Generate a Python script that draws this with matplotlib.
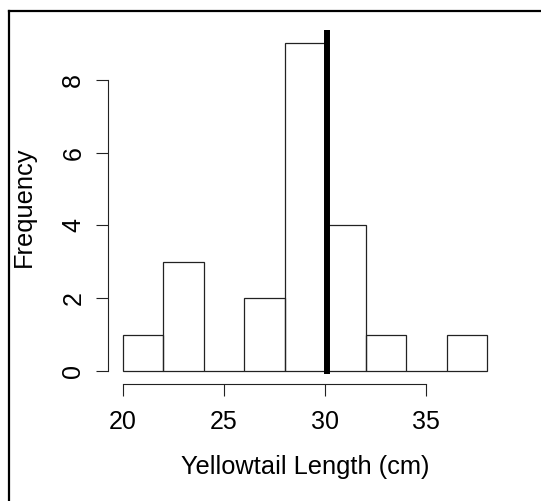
import numpy as np
import matplotlib.pyplot as plt
from matplotlib.lines import Line2D

plt.rcParams['font.family'] = ['Liberation Sans', 'DejaVu Sans']

# histogram of yellowtail lengths, 2 cm bins
bin_edges = [20, 22, 24, 26, 28, 30, 32, 34, 36, 38]
counts = [1, 3, 0, 2, 9, 4, 1, 0, 1]
mean_length = 30.1

x_ticks = [20, 25, 30, 35]
y_ticks = [0, 2, 4, 6, 8]

fig = plt.figure(figsize=(5.41, 5.01), dpi=100)
ax = fig.add_axes([0.2004, 0.2335, 0.7268, 0.706])

lefts = np.array(bin_edges[:-1])
widths = np.diff(bin_edges)
ax.bar(lefts, counts, width=widths, align='edge', fill=False,
       edgecolor='#222222', linewidth=0.9)
ax.plot([mean_length, mean_length], [0, 9.6], color='black', linewidth=4.3)

# R-style axes
ax.set_xlim(19.28, 38.72)
ax.set_ylim(-0.36, 9.36)
for s in ['top', 'right']:
    ax.spines[s].set_visible(False)
ax.spines['bottom'].set_bounds(20, 35)
ax.spines['left'].set_bounds(0, 8)
for s in ['bottom', 'left']:
    ax.spines[s].set_linewidth(0.8)
    ax.spines[s].set_color('#222222')
ax.set_xticks(x_ticks)
ax.set_yticks(y_ticks)
ax.tick_params(axis='both', direction='out', length=8.6, width=0.8,
               color='#222222', labelsize=18, pad=10)
ax.tick_params(axis='y', labelrotation=90, pad=8)
for lab in ax.get_yticklabels():
    lab.set_va('center')

ax.set_xlabel('Yellowtail Length (cm)', fontsize=18.3, labelpad=15)
ax.set_ylabel('Frequency', fontsize=18.3, labelpad=18)

# partial frame seen in the reference (top and left edges)
fig.add_artist(Line2D([9 / 541, 9 / 541], [0, 1 - 11 / 501], transform=fig.transFigure,
                      color='black', linewidth=1.6))
fig.add_artist(Line2D([9 / 541, 1], [1 - 11 / 501, 1 - 11 / 501], transform=fig.transFigure,
                      color='black', linewidth=1.6))

fig.savefig('out.png', dpi=100)
